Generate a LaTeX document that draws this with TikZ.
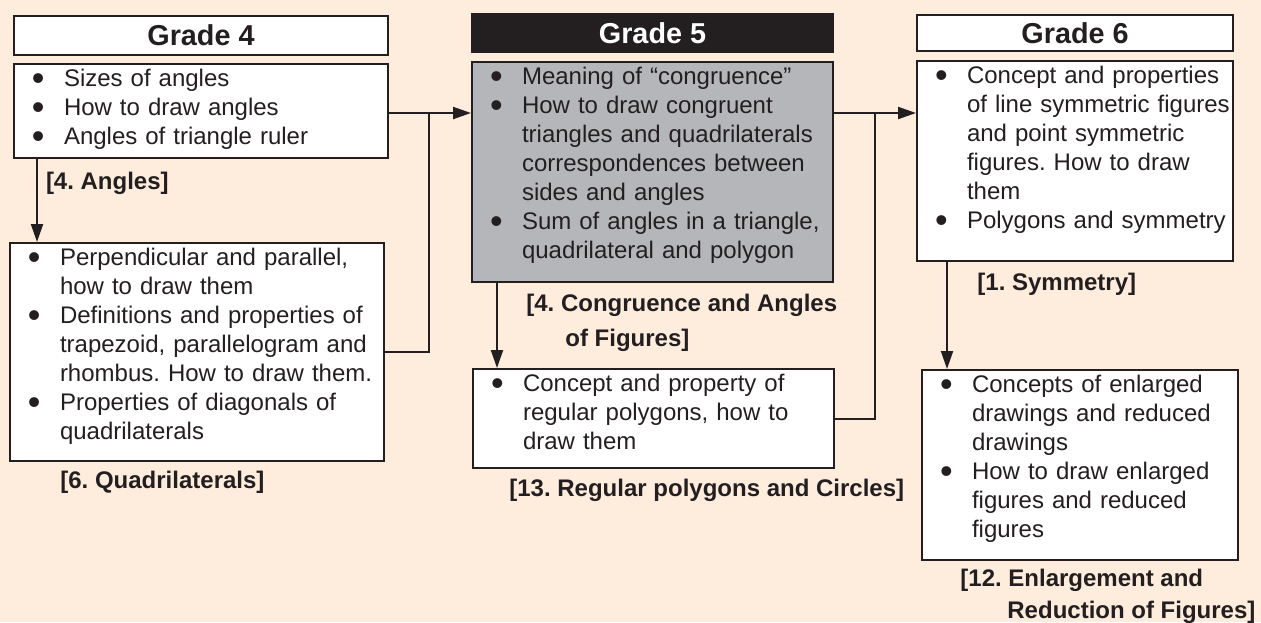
\documentclass[tikz,border=0pt]{standalone}
\usepackage{fontspec}
\setmainfont{Liberation Sans}
\usepackage{xcolor}
\usepackage{tikz}
\usetikzlibrary{
  arrows.meta,
  calc,
  positioning
}
\frenchspacing
\definecolor{GrdInk}{HTML}{231F20}
\definecolor{GrdPeach}{HTML}{FEECDD}
\definecolor{GrdGray}{HTML}{B4B6B9}
\newcommand{\tpdot}{\raisebox{-2.2pt}[0pt][0pt]{\fontsize{18pt}{18pt}\selectfont\textbullet}}
\newcommand{\tpitem}[1]{\leftskip=14pt\rightskip=-11pt plus 1fil\noindent\llap{\hbox to 14pt{\hspace*{-2pt}\tpdot\hfil}}#1\par}
\tikzset{
  every node/.style = {font=\fontsize{12pt}{14.5pt}\selectfont, text=GrdInk},
  grade head/.style = {
    draw=GrdInk,
    fill=white,
    line width=1pt,
    anchor=north west,
    inner sep=0pt,
    minimum height=19.5pt,
    font=\fontsize{14.4pt}{17pt}\selectfont\bfseries
  },
  grade head dark/.style = {grade head, fill=GrdInk, text=white},
  topic/.style 2 args = {
    draw=GrdInk,
    fill=white,
    line width=1pt,
    anchor=north west,
    align=left,
    inner xsep=11pt,
    inner ysep=2pt,
    text width=#1,
    text height=9pt,
    text depth=#2
  },
  topic gray/.style 2 args = {topic={#1}{#2}, fill=GrdGray},
  unit tag/.style = {
    font=\fontsize{12pt}{14.5pt}\selectfont\bfseries,
    inner sep=0pt,
    align=left
  },
  flow/.style = {-{Triangle[length=9pt,width=6pt]}, draw=GrdInk, line width=1pt},
  link/.style = {draw=GrdInk, line width=1pt},
}

\begin{document}
\begin{tikzpicture}[x=0.5pt,y=-0.5pt]
  \fill[GrdPeach] (0,0) rectangle (1261,622);
  \useasboundingbox (0,0) rectangle (1261,622);

  % Grade 4
  \node[grade head, minimum width=187pt] (g4head) at (13,15) {Grade 4};
  \node[topic={165pt}{34pt}] (angles) at (13,63)
    {\tpitem{Sizes of angles}\tpitem{How to draw angles}\tpitem{Angles of triangle ruler}};
  \node[topic={165pt}{96pt}] (quads) at (9,242)
    {\tpitem{Perpendicular and parallel,\\how to draw them}%
     \tpitem{Definitions and properties of\\trapezoid, parallelogram and\\rhombus. How to draw them.}%
     \tpitem{Properties of diagonals of\\quadrilaterals}};

  % Grade 5
  \node[grade head dark, minimum width=180.5pt, minimum height=19pt] (g5head) at (471,13) {Grade 5};
  \node[topic gray={158.5pt}{97pt}] (congr) at (471,61)
    {\tpitem{Meaning of ``congruence''}%
     \tpitem{How to draw congruent\\triangles and quadrilaterals\\correspondences between\\sides and angles}%
     \tpitem{Sum of angles in a triangle,\\quadrilateral and polygon}};
  \node[topic={158.5pt}{36.5pt}] (regpoly) at (472,368)
    {\tpitem{Concept and property of\\regular polygons, how to\\draw them}};

  % Grade 6
  \node[grade head, minimum width=158pt, minimum height=18pt] (g6head) at (916,14) {Grade 6};
  \node[topic={136pt}{87pt}] (symm) at (916,60)
    {\tpitem{Concept and properties\\of line symmetric figures\\and point symmetric\\figures. How to draw\\them}%
     \tpitem{Polygons and symmetry}};
  \node[topic={136pt}{82pt}] (enlarge) at (921,369)
    {\tpitem{Concepts of enlarged\\drawings and reduced\\drawings}%
     \tpitem{How to draw enlarged\\figures and reduced\\figures}};

  % connectors
  \coordinate (j45) at ($(angles.east)+(20pt,-1pt)$);
  \coordinate (j56) at ($(congr.east |- j45)+(20.5pt,0)$);
  \draw[flow] ([xshift=12pt]angles.south west) -- node[unit tag, pos=0.29, right=4pt] (tangles) {[4. Angles]} ([xshift=12pt]angles.south west |- quads.north);
  \draw[flow] (angles.east |- j45) -- (congr.west |- j45);
  \draw[link] (quads.east) -| (j45);
  \draw[flow] ([xshift=13pt]congr.south west) -- ([xshift=13pt]congr.south west |- regpoly.north);
  \draw[flow] (congr.east |- j45) -- (symm.west |- j45);
  \draw[link] (regpoly.east) -| (j56);
  \draw[flow] ([xshift=15.5pt]symm.south west) -- ([xshift=15.5pt]symm.south west |- enlarge.north);

  % unit tags
  \node[unit tag, anchor=west] (tquads) at ($(quads.south west)+(25.5pt,-10pt)$) {[6. Quadrilaterals]};
  \node[unit tag, anchor=north west] (tcongr) at ($(congr.south west)+(27.5pt,-5.5pt)$)
    {[4. Congruence and Angles\\[3pt]\hspace*{19.5pt}of Figures]};
  \node[unit tag, anchor=west] (tregpoly) at ($(regpoly.south west)+(18.5pt,-10.5pt)$) {[13. Regular polygons and Circles]};
  \node[unit tag, anchor=west] (tsymm) at ($(symm.south west)+(30.5pt,-11pt)$) {[1. Symmetry]};
  \node[unit tag, anchor=north west] (tenlarge) at ($(enlarge.south west)+(19.5pt,-4pt)$)
    {[12. Enlargement and\\[1.5pt]\hspace*{23.5pt}Reduction of Figures]};
\end{tikzpicture}
\end{document}
